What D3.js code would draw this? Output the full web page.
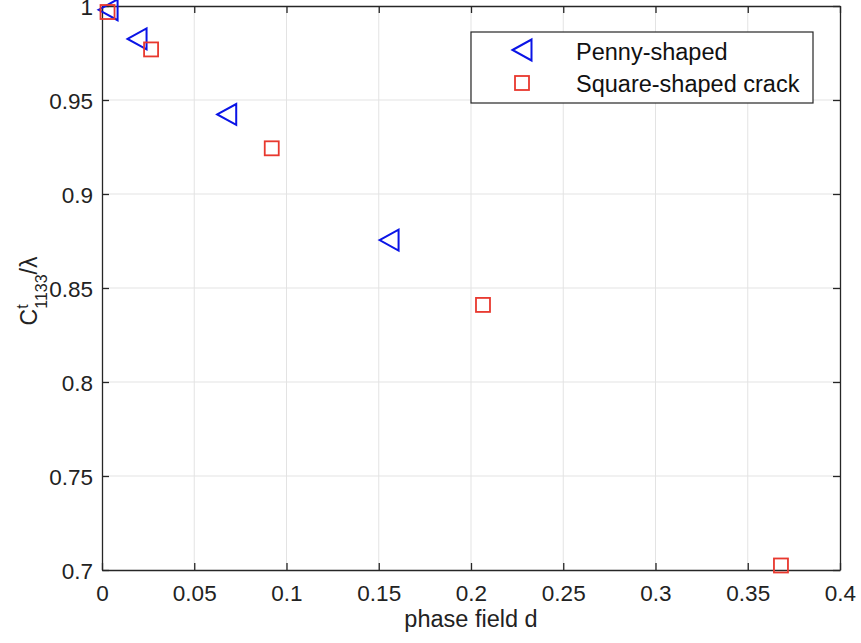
<!DOCTYPE html>
<html><head><meta charset="utf-8">
<script src="https://cdn.jsdelivr.net/npm/d3@7"></script>
<style>body{margin:0;background:#fff}svg{font-family:"Liberation Sans",Arial,Helvetica,sans-serif}</style>
</head><body><svg id="c" width="861" height="643"></svg>
<script>
const pennyX = [0.0033, 0.019, 0.0676, 0.1556];
const pennyY = [0.998, 0.9825, 0.9423, 0.8755];
const squareX = [0.003, 0.0266, 0.092, 0.2065, 0.368];
const squareY = [0.9968, 0.9769, 0.9243, 0.841, 0.7024];
const xTicks = [0, 0.05, 0.1, 0.15, 0.2, 0.25, 0.3, 0.35, 0.4];
const yTicks = [0.7, 0.75, 0.8, 0.85, 0.9, 0.95, 1];
const seriesNames = ["Penny-shaped", "Square-shaped crack"];

const svg = d3.select("#c");
const L = 102, R = 840, T = 6, B = 570;
const x = d3.scaleLinear().domain([0, 0.4]).range([L, R]);
const y = d3.scaleLinear().domain([0.7, 1]).range([B, T]);
const axisCol = "#262626", gridCol = "#e3e3e3";
const blue = "#0a14e6", red = "#e8382e";

// grid
svg.append("g").selectAll("line").data(xTicks.slice(1, -1)).join("line")
  .attr("x1", d => x(d)).attr("x2", d => x(d)).attr("y1", T).attr("y2", B)
  .attr("stroke", gridCol).attr("stroke-width", 1);
svg.append("g").selectAll("line").data(yTicks.slice(1, -1)).join("line")
  .attr("y1", d => y(d)).attr("y2", d => y(d)).attr("x1", L).attr("x2", R)
  .attr("stroke", gridCol).attr("stroke-width", 1);

// axes
const fmt = d => d3.format("")(+d.toFixed(2));
const xAx = svg.append("g").attr("transform", `translate(0,${B})`)
  .call(d3.axisBottom(x).tickValues(xTicks).tickFormat(fmt).tickSizeInner(-7).tickSizeOuter(0).tickPadding(15));
const yAx = svg.append("g").attr("transform", `translate(${L},0)`)
  .call(d3.axisLeft(y).tickValues(yTicks).tickFormat(fmt).tickSizeInner(-7).tickSizeOuter(0).tickPadding(9));
const xTop = svg.append("g").attr("transform", `translate(0,${T})`)
  .call(d3.axisTop(x).tickValues(xTicks).tickFormat("").tickSizeInner(-7).tickSizeOuter(0));
const yRight = svg.append("g").attr("transform", `translate(${R},0)`)
  .call(d3.axisRight(y).tickValues(yTicks).tickFormat("").tickSizeInner(-7).tickSizeOuter(0));
[xAx, yAx, xTop, yRight].forEach(g => {
  g.select(".domain").attr("stroke", axisCol).attr("stroke-width", 1.3);
  g.selectAll(".tick line").attr("stroke", axisCol).attr("stroke-width", 1.3);
  g.selectAll(".tick text").attr("fill", "#222").attr("font-size", 22.5)
    .attr("font-family", '"Liberation Sans",Arial,sans-serif');
});
xAx.selectAll(".tick text").attr("dy", "0.71em");
yAx.selectAll(".tick text").attr("dy", "0.36em");

// labels
svg.append("text").attr("x", (L + R) / 2).attr("y", 627).attr("text-anchor", "middle")
  .attr("font-size", 23.5).attr("fill", "#222").text("phase field d");
const yl = svg.append("text").attr("transform", "translate(37,291) rotate(-90)")
  .attr("text-anchor", "middle").attr("font-size", 23).attr("fill", "#222");
yl.append("tspan").text("C");
yl.append("tspan").attr("font-size", 16).attr("dy", -9).text("t");
yl.append("tspan").attr("font-size", 16).attr("dx", -4.4).attr("dy", 19).text("1133");
yl.append("tspan").attr("font-size", 23).attr("dy", -10).text("/λ");

// markers
const tri = (cx, cy, s) => `M${cx - s * 0.5},${cy} L${cx + s * 0.5},${cy - s * 0.55} L${cx + s * 0.5},${cy + s * 0.55} Z`;
const pennyData = pennyX.map((v, i) => [v, pennyY[i]]);
const squareData = squareX.map((v, i) => [v, squareY[i]]);
svg.append("g").selectAll("path").data(pennyData).join("path")
  .attr("d", d => tri(x(d[0]), y(d[1]), 19))
  .attr("fill", "none").attr("stroke", blue).attr("stroke-width", 2);
svg.append("g").selectAll("rect").data(squareData).join("rect")
  .attr("x", d => x(d[0]) - 7).attr("y", d => y(d[1]) - 7).attr("width", 14).attr("height", 14)
  .attr("fill", "none").attr("stroke", red).attr("stroke-width", 1.8);

// legend
const lg = svg.append("g");
lg.append("rect").attr("x", 471).attr("y", 32).attr("width", 342).attr("height", 71)
  .attr("fill", "#fff").attr("stroke", axisCol).attr("stroke-width", 1.2);
lg.append("path").attr("d", tri(522, 50, 19)).attr("fill", "none").attr("stroke", blue).attr("stroke-width", 2);
lg.append("rect").attr("x", 515).attr("y", 76).attr("width", 14).attr("height", 14)
  .attr("fill", "none").attr("stroke", red).attr("stroke-width", 1.8);
lg.selectAll("text.l").data(seriesNames).join("text").attr("class", "l")
  .attr("x", 576).attr("y", (d, i) => 60 + i * 32).attr("font-size", 23.5).attr("fill", "#111").text(d => d);
</script></body></html>
